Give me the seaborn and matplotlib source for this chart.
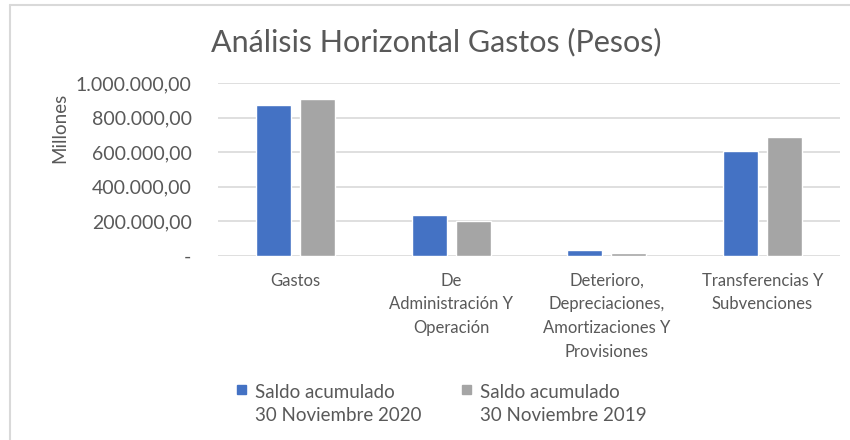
import matplotlib
matplotlib.use('Agg')
import matplotlib.pyplot as plt
from matplotlib.ticker import FuncFormatter
from matplotlib.lines import Line2D
from matplotlib.patches import Rectangle
import pandas as pd
import seaborn as sns

categorias = ['Gastos',
              'De\nAdministración Y\nOperación',
              'Deterioro,\nDepreciaciones,\nAmortizaciones Y\nProvisiones',
              'Transferencias Y\nSubvenciones']
series = ['Saldo acumulado\n30 Noviembre 2020', 'Saldo acumulado\n30 Noviembre 2019']
saldo_2020 = [873000, 236000, 33000, 606000]
saldo_2019 = [907000, 203000, 19000, 685000]
colores = ['#4472c4', '#a5a5a5']

df = pd.DataFrame({
    'categoria': categorias * 2,
    'serie': [series[0]] * 4 + [series[1]] * 4,
    'valor': saldo_2020 + saldo_2019,
})

sns.set_style('white')
plt.rcParams['font.family'] = ['Lato', 'DejaVu Sans']
gris = '#595959'

fig = plt.figure(figsize=(8.5, 4.4), dpi=100)
ax = fig.add_axes([218 / 850, 1 - 256 / 440, (840 - 218) / 850, (256 - 83) / 440])
sns.barplot(data=df, x='categoria', y='valor', hue='serie', palette=colores,
            width=0.567, gap=0.21, saturation=1, ax=ax, legend=False)

ax.set_ylim(0, 1000000)
ax.set_yticks(range(0, 1000001, 200000))


def fmt(v, pos):
    if v == 0:
        return '-'
    s = f'{v:,.2f}'
    return s.replace(',', 'X').replace('.', ',').replace('X', '.')


ax.yaxis.set_major_formatter(FuncFormatter(fmt))
ax.grid(axis='y', color='#d9d9d9', linewidth=1.2)
ax.set_axisbelow(True)
for s in ax.spines.values():
    s.set_visible(False)
ax.tick_params(axis='y', length=0, labelsize=14, labelcolor=gris, pad=19)
ax.tick_params(axis='x', length=0, labelsize=12, labelcolor=gris, pad=12)
for lab in ax.get_xticklabels():
    lab.set_linespacing(1.6)
    lab.set_va('top')
ax.set_xlabel('')
ax.set_ylabel('')

fig.text(60 / 850, 1 - 128 / 440, 'Millones', rotation=90, ha='center', va='center',
         fontsize=13.5, color=gris)
fig.text(436 / 850, 1 - 42 / 440, 'Análisis Horizontal Gastos (Pesos)', ha='center',
         va='center', fontsize=22, color=gris)

# leyenda
for i, (c, txt) in enumerate(zip(colores, series)):
    x0 = (237 + 225 * i) / 850
    fig.add_artist(Rectangle((x0, 1 - 394 / 440), 9 / 850, 9 / 440, color=c,
                             transform=fig.transFigure))
    fig.text(x0 + 18 / 850, 1 - 384 / 440, txt, ha='left', va='top', fontsize=13.5,
             color=gris, linespacing=1.4)

# marco del gráfico
fig.add_artist(Line2D([10 / 850, 10 / 850], [0, 1 - 5 / 440], color='#d9d9d9', lw=1.5))
fig.add_artist(Line2D([10 / 850, 1], [1 - 5 / 440, 1 - 5 / 440], color='#d9d9d9', lw=1.5))

fig.savefig('out.png', dpi=100)
